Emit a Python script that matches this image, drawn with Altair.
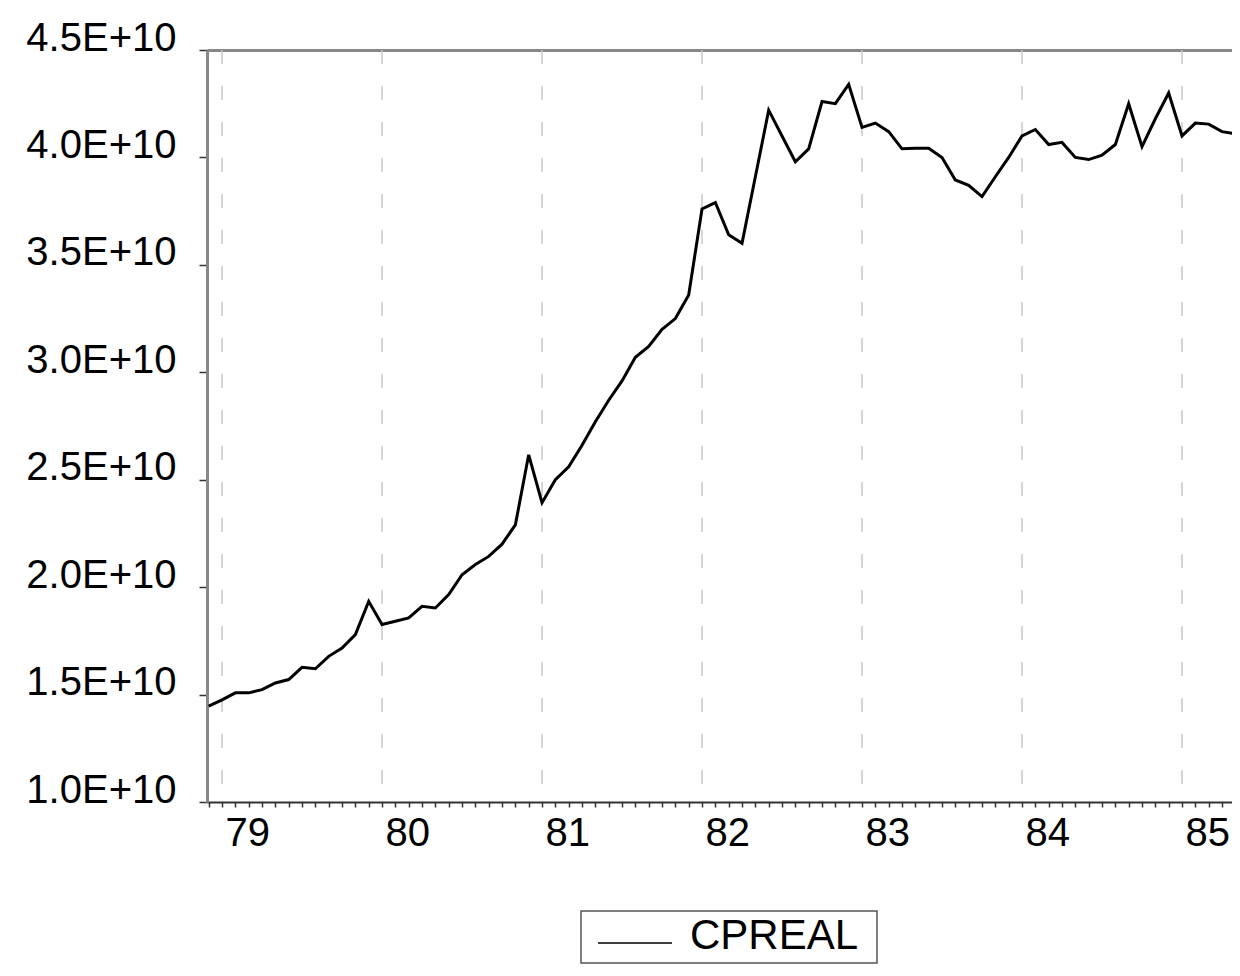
import altair as alt
import pandas as pd

# Monthly CPREAL values (in units of 1E+10), starting December 1978
start_year = 1978
start_month = 12
cpreal_e10 = [
    1.446, 1.475, 1.508, 1.508, 1.523, 1.554, 1.570, 1.627, 1.620, 1.678,
    1.717, 1.779, 1.934, 1.826, 1.841, 1.857, 1.911, 1.903, 1.965, 2.058,
    2.105, 2.143, 2.200, 2.290, 2.616, 2.393, 2.500, 2.560, 2.660, 2.770,
    2.870, 2.960, 3.070, 3.120, 3.200, 3.250, 3.360, 3.760, 3.790, 3.640,
    3.600, 3.910, 4.220, 4.100, 3.980, 4.040, 4.260, 4.250, 4.340, 4.140,
    4.160, 4.120, 4.040, 4.043, 4.043, 4.000, 3.895, 3.870, 3.818, 3.910,
    4.000, 4.100, 4.130, 4.060, 4.070, 4.000, 3.990, 4.010, 4.060, 4.250,
    4.050, 4.180, 4.300, 4.100, 4.160, 4.155, 4.120, 4.110, 3.550,
]
year_labels = [1979, 1980, 1981, 1982, 1983, 1984, 1985]
y_ticks_e10 = [1.0, 1.5, 2.0, 2.5, 3.0, 3.5, 4.0, 4.5]
series_name = ["CPREAL"]

t0 = start_year + (start_month - 1) / 12.0
t = [t0 + i / 12.0 for i in range(len(cpreal_e10))]
df = pd.DataFrame({
    "t": t,
    "value": [v * 1e10 for v in cpreal_e10],
})
grid_df = pd.DataFrame({"year": year_labels})
legend_df = pd.DataFrame({"series": series_name})
month_ticks = [round(x, 6) for x in t]

FONT = "Liberation Sans"
x_domain = [1978.906, 1985.3125]

x_scale = alt.Scale(domain=x_domain, nice=False, zero=False)
y_scale = alt.Scale(domain=[1.0e10, 4.5e10], nice=False, zero=False)

bottom_axis = alt.Axis(
    orient="bottom",
    values=month_ticks,
    labelExpr="abs(datum.value - round(datum.value)) < 0.01 ? substring(toString(round(datum.value)), 2) : ''",
    tickSize=5, tickColor="#333", tickWidth=1.5,
    domainColor="#333", domainWidth=2,
    labelFont=FONT, labelFontSize=40, labelColor="black",
    labelAlign="left", labelBaseline="top", labelPadding=6, labelOffset=3,
    labelOverlap=False, labelFlush=False, grid=False, title=None,
)
top_axis = alt.Axis(
    orient="top", ticks=False, labels=False, grid=False, title=None,
    domainColor="#888", domainWidth=3,
)
left_axis = alt.Axis(
    values=[v * 1e10 for v in y_ticks_e10],
    labelExpr="format(datum.value / 1e10, '.1f') + 'E+10'",
    tickSize=8, tickColor="#333", tickWidth=1.5,
    domainColor="#888", domainWidth=3,
    labelFont=FONT, labelFontSize=40, labelColor="black",
    labelPadding=23, labelBaseline="alphabetic",
    labelFlush=False, labelOverlap=False, grid=False, title=None,
)

grid = alt.Chart(grid_df).mark_rule(
    color="#c8c8c8", strokeWidth=1.5, strokeDash=[14, 22]
).encode(
    x=alt.X("year:Q", scale=x_scale, axis=top_axis)
)

line = alt.Chart(df).mark_line(strokeWidth=3, color="black", clip=True).encode(
    x=alt.X("t:Q", scale=x_scale, axis=bottom_axis),
    y=alt.Y("value:Q", scale=y_scale, axis=left_axis),
)

# Legend box (drawn below the plot)
legend_box = alt.Chart(legend_df).mark_rect(
    fill="white", stroke="#555", strokeWidth=1.5
).encode(
    x=alt.value(374), x2=alt.value(670), y=alt.value(861), y2=alt.value(913)
)
legend_line = alt.Chart(legend_df).mark_rule(
    color="black", strokeWidth=1.5
).encode(
    x=alt.value(391), x2=alt.value(465), y=alt.value(893)
)
legend_text = alt.Chart(legend_df).mark_text(
    font=FONT, fontSize=42, color="black", align="left", baseline="alphabetic"
).encode(
    x=alt.value(483), y=alt.value(899), text="series:N"
)

chart = alt.layer(grid, line, legend_box, legend_line, legend_text).resolve_axis(
    x="independent"
).properties(
    width=1025,
    height=752,
    padding={"left": 199, "top": 42, "right": 0, "bottom": 162},
    autosize=alt.AutoSizeParams(type="none"),
).configure_view(
    stroke=None
).configure(background="white")

chart.save("out.html", embed_options={"renderer": "svg", "actions": False})
